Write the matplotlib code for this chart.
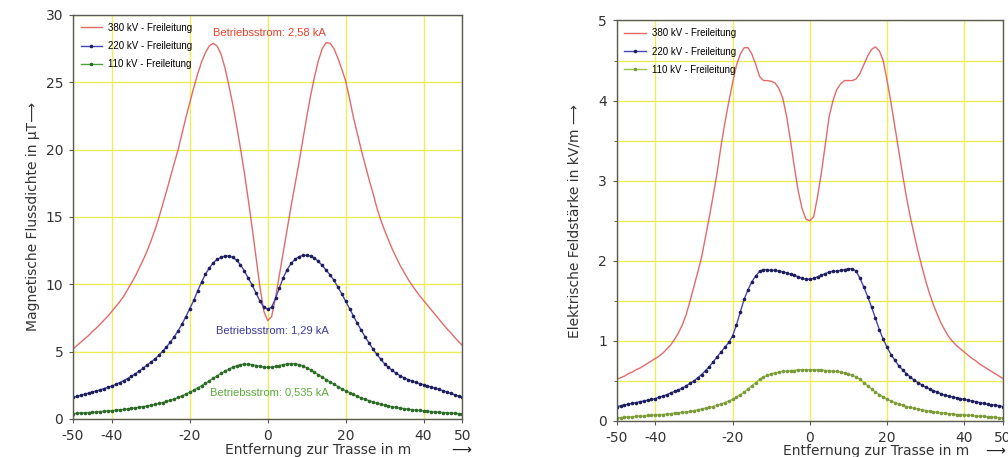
import numpy as np
import matplotlib
matplotlib.use("Agg")
import matplotlib.pyplot as plt
from matplotlib.ticker import MultipleLocator

# ===================== data =====================
# distance to the line axis in m (one value per metre)
dist = list(range(-50, 51))

# magnetic flux density in uT
b_380 = [5.2, 5.45, 5.7, 5.95, 6.2, 6.5, 6.75, 7.05, 7.35, 7.65,
         8.0, 8.35, 8.7, 9.1, 9.6, 10.1, 10.6, 11.2, 11.8, 12.45,
         13.2, 14.0, 14.9, 15.9, 16.9, 17.95, 19.0, 20.0, 21.2, 22.4,
         23.5, 24.6, 25.6, 26.5, 27.2, 27.7, 27.9, 27.7, 27.1, 26.1,
         24.8, 23.4, 21.8, 20.1, 18.3, 16.3, 14.2, 12.0, 9.8, 8.0,
         7.3,
         7.6, 9.0, 10.7, 12.4, 14.1, 15.8, 17.4, 19.0, 20.7, 22.4,
         24.0, 25.4, 26.6, 27.5, 27.95, 27.9, 27.5, 26.8, 26.0, 25.1,
         23.8, 22.4, 21.2, 20.0, 18.9, 17.8, 16.8, 15.7, 14.8, 14.0,
         13.3, 12.6, 12.0, 11.4, 10.9, 10.4, 9.95, 9.55, 9.15, 8.8,
         8.45, 8.1, 7.75, 7.4, 7.05, 6.7, 6.4, 6.05, 5.75, 5.45]
b_220 = [1.6, 1.68, 1.76, 1.84, 1.92, 2.0, 2.08, 2.17, 2.26, 2.35,
         2.45, 2.57, 2.7, 2.85, 3.0, 3.17, 3.35, 3.55, 3.77, 4.0,
         4.22, 4.45, 4.72, 5.02, 5.35, 5.7, 6.1, 6.55, 7.05, 7.6,
         8.2, 8.8, 9.5, 10.15, 10.75, 11.2, 11.6, 11.85, 12.0, 12.1,
         12.1, 12.0, 11.8, 11.45, 11.0, 10.45, 9.95, 9.35, 8.75, 8.3,
         8.15,
         8.3, 8.95, 9.75, 10.5, 11.1, 11.55, 11.85, 12.05, 12.15, 12.15,
         12.1, 11.95, 11.7, 11.4, 11.05, 10.7, 10.3, 9.8, 9.3, 8.75,
         8.2, 7.65, 7.1, 6.6, 6.1, 5.65, 5.2, 4.8, 4.45, 4.1,
         3.83, 3.6, 3.39, 3.21, 3.06, 2.93, 2.82, 2.72, 2.63, 2.55,
         2.46, 2.37, 2.28, 2.19, 2.1, 2.0, 1.9, 1.8, 1.7, 1.6]
b_110 = [0.40, 0.42, 0.44, 0.46, 0.48, 0.50, 0.52, 0.55, 0.57, 0.60,
         0.62, 0.65, 0.68, 0.71, 0.75, 0.79, 0.83, 0.87, 0.92, 0.97,
         1.02, 1.08, 1.15, 1.22, 1.30, 1.39, 1.49, 1.60, 1.72, 1.85,
         1.99, 2.14, 2.30, 2.47, 2.65, 2.83, 3.02, 3.20, 3.38, 3.55,
         3.70, 3.84, 3.95, 4.03, 4.07, 4.07, 4.03, 3.97, 3.90, 3.85,
         3.83,
         3.85, 3.90, 3.97, 4.04, 4.09, 4.11, 4.10, 4.04, 3.94, 3.80,
         3.64, 3.47, 3.29, 3.11, 2.93, 2.75, 2.58, 2.41, 2.25, 2.10,
         1.96, 1.82, 1.69, 1.57, 1.46, 1.36, 1.27, 1.18, 1.10, 1.03,
         0.97, 0.91, 0.86, 0.81, 0.77, 0.73, 0.69, 0.66, 0.63, 0.60,
         0.57, 0.55, 0.52, 0.50, 0.48, 0.46, 0.44, 0.42, 0.40, 0.38]

# electric field strength in kV/m
e_380 = [0.52, 0.54, 0.56, 0.59, 0.61, 0.64, 0.66, 0.69, 0.72, 0.75,
         0.78, 0.81, 0.85, 0.9, 0.95, 1.02, 1.1, 1.2, 1.33, 1.5,
         1.68, 1.86, 2.05, 2.3, 2.55, 2.82, 3.1, 3.43, 3.72, 3.98,
         4.22, 4.44, 4.58, 4.66, 4.66, 4.58, 4.45, 4.3, 4.25, 4.25,
         4.24, 4.22, 4.15, 4.03, 3.8, 3.5, 3.17, 2.87, 2.65, 2.52,
         2.5,
         2.55, 2.8, 3.1, 3.45, 3.8, 4.0, 4.14, 4.21, 4.25, 4.25,
         4.25, 4.27, 4.34, 4.45, 4.56, 4.64, 4.67, 4.62, 4.5, 4.25,
         3.98, 3.68, 3.38, 3.08, 2.8, 2.55, 2.33, 2.12, 1.93, 1.75,
         1.59, 1.45, 1.33, 1.22, 1.13, 1.05, 0.99, 0.94, 0.9, 0.86,
         0.82, 0.78, 0.75, 0.71, 0.68, 0.65, 0.62, 0.59, 0.56, 0.53]
e_220 = [0.18, 0.19, 0.2, 0.21, 0.22, 0.23, 0.24, 0.25, 0.26, 0.27,
         0.28, 0.3, 0.31, 0.33, 0.35, 0.37, 0.39, 0.41, 0.44, 0.47,
         0.5, 0.54, 0.58, 0.63, 0.68, 0.74, 0.8, 0.86, 0.92, 0.98,
         1.06, 1.2, 1.36, 1.52, 1.64, 1.74, 1.81, 1.87, 1.89, 1.89,
         1.88, 1.88, 1.87, 1.86, 1.85, 1.83, 1.82, 1.8, 1.78, 1.77,
         1.77,
         1.78, 1.8, 1.82, 1.84, 1.86, 1.87, 1.87, 1.88, 1.89, 1.9,
         1.9, 1.87, 1.78, 1.67, 1.55, 1.42, 1.28, 1.14, 1.02, 0.92,
         0.83, 0.76, 0.69, 0.64, 0.59, 0.55, 0.51, 0.48, 0.45, 0.42,
         0.4, 0.38, 0.36, 0.34, 0.32, 0.31, 0.3, 0.29, 0.28, 0.27,
         0.26, 0.25, 0.24, 0.23, 0.22, 0.21, 0.2, 0.2, 0.19, 0.18]
e_110 = [0.04, 0.04, 0.05, 0.05, 0.05, 0.06, 0.06, 0.06, 0.07, 0.07,
         0.08, 0.08, 0.08, 0.09, 0.09, 0.1, 0.1, 0.11, 0.11, 0.12,
         0.13, 0.14, 0.15, 0.16, 0.17, 0.18, 0.2, 0.21, 0.23, 0.25,
         0.27, 0.3, 0.33, 0.36, 0.4, 0.44, 0.48, 0.52, 0.55, 0.57,
         0.59, 0.6, 0.61, 0.62, 0.62, 0.63, 0.63, 0.64, 0.64, 0.64,
         0.64,
         0.64, 0.64, 0.64, 0.63, 0.63, 0.62, 0.62, 0.61, 0.6, 0.59,
         0.57, 0.55, 0.52, 0.48, 0.44, 0.4, 0.36, 0.33, 0.3, 0.27,
         0.25, 0.23, 0.21, 0.2, 0.18, 0.17, 0.16, 0.15, 0.14, 0.13,
         0.12, 0.11, 0.11, 0.1, 0.1, 0.09, 0.09, 0.08, 0.08, 0.08,
         0.07, 0.07, 0.06, 0.06, 0.06, 0.05, 0.05, 0.05, 0.04, 0.04]

labels = ["380 kV - Freileitung", "220 kV - Freileitung", "110 kV - Freileitung"]
currents = ["Betriebsstrom: 2,58 kA", "Betriebsstrom: 1,29 kA", "Betriebsstrom: 0,535 kA"]

# ===================== style =====================
plt.rcParams['font.family'] = ['DejaVu Sans']
RED = '#e26a6a'
BLUE = '#4646b4'
BLUE_M = '#1e1e5a'
GREEN = '#4fa040'
GREEN_M = '#2d6a2a'
GREEN2 = '#9cc44a'
GREEN2_M = '#7c9a3c'
GRID = '#eeec5a'
SPINE = '#5a5a5a'

fig = plt.figure(figsize=(10.08, 4.57), dpi=100)
ax1 = fig.add_axes([0.0724, 0.0832, 0.3864, 0.884])
ax2 = fig.add_axes([0.6118, 0.0788, 0.3832, 0.8764])


def style_axes(ax):
    for s in ax.spines.values():
        s.set_color(SPINE)
        s.set_linewidth(1.0)
        s.set_zorder(3)
    ax.tick_params(which='both', direction='out', color=SPINE, labelsize=10,
                   labelcolor='#333333')
    ax.tick_params(axis='x', length=3, pad=4)
    ax.tick_params(axis='y', which='major', length=3, pad=4)
    ax.tick_params(axis='y', which='minor', length=2)
    ax.set_xlim(-50, 50)
    ax.set_xticks([-50, -40, -20, 0, 20, 40, 50])
    ax.set_xticklabels(['-50', '-40', '-20', '0', '20', '40', '50'])
    ax.grid(True, which='both', color=GRID, lw=1.0)
    ax.set_axisbelow(True)


leg_kw = dict(loc='upper left', bbox_to_anchor=(0.0, 1.0), frameon=False,
              prop={'family': 'Liberation Sans', 'size': 7},
              handlelength=2.2, handletextpad=0.6, labelspacing=0.85,
              borderaxespad=0.4)

# ===================== Flussdichte =====================
style_axes(ax1)
ax1.plot(dist, b_380, color=RED, lw=1.0, label=labels[0])
ax1.plot(dist, b_220, color=BLUE, lw=1.0, marker='o', ms=1.6,
         mfc=BLUE_M, mec=BLUE_M, label=labels[1])
ax1.plot(dist, b_110, color=GREEN, lw=1.0, marker='o', ms=1.6,
         mfc=GREEN_M, mec=GREEN_M, label=labels[2])
ax1.set_ylim(0, 30)
ax1.set_yticks([0, 5, 10, 15, 20, 25, 30])
ax1.set_ylabel("Magnetische Flussdichte in µT⟶", fontsize=10, labelpad=4,
               color='#333333')
ax1.text(0.3, 28.7, currents[0], color='#e8402a', fontsize=8,
         family='Liberation Sans', ha='center', va='center')
ax1.text(1.3, 6.6, currents[1], color='#3a3aa0', fontsize=8,
         family='Liberation Sans', ha='center', va='center')
ax1.text(0.5, 2.0, currents[2], color='#5aaa3a', fontsize=8,
         family='Liberation Sans', ha='center', va='center')
ax1.legend(**leg_kw)

# ===================== Feldstärke =====================
style_axes(ax2)
ax2.plot(dist, e_380, color=RED, lw=1.0, label=labels[0])
ax2.plot(dist, e_220, color=BLUE, lw=1.0, marker='o', ms=1.6,
         mfc=BLUE_M, mec=BLUE_M, label=labels[1])
ax2.plot(dist, e_110, color=GREEN2, lw=1.0, marker='o', ms=1.6,
         mfc=GREEN2_M, mec=GREEN2_M, label=labels[2])
ax2.set_ylim(0, 5)
ax2.yaxis.set_major_locator(MultipleLocator(1))
ax2.yaxis.set_minor_locator(MultipleLocator(0.5))
ax2.set_ylabel("Elektrische Feldstärke in kV/m ⟶", fontsize=10, labelpad=12,
               color='#333333')
ax2.legend(**leg_kw)

# x labels with arrow
fig.text(318 / 1008, 1 - 450 / 457, "Entfernung zur Trasse in m", fontsize=10,
         ha='center', va='center', color='#333333')
fig.text(461 / 1008, 1 - 450 / 457, "⟶", fontsize=10, ha='center',
         va='center', color='#222222')
fig.text(876 / 1008, 1 - 451 / 457, "Entfernung zur Trasse in m", fontsize=10,
         ha='center', va='center', color='#333333')
fig.text(995 / 1008, 1 - 451 / 457, "⟶", fontsize=10, ha='center',
         va='center', color='#222222')

fig.savefig("out.png", dpi=100)
